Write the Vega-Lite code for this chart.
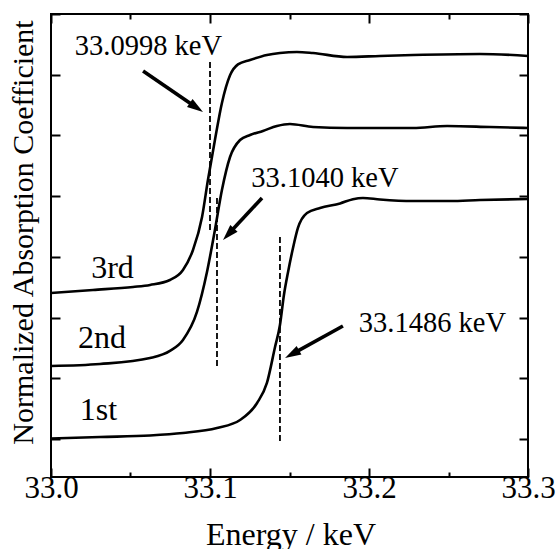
{
  "$schema": "https://vega.github.io/schema/vega-lite/v6.json",
  "width": 477,
  "height": 463,
  "autosize": {"type": "none"},
  "padding": {"left": 51, "top": 14, "right": 31, "bottom": 72},
  "background": "white",
  "config": {
    "view": {"stroke": "black", "strokeWidth": 2},
    "axis": {
      "domain": false,
      "grid": false,
      "tickColor": "black",
      "tickWidth": 2,
      "labelFont": "Liberation Serif, Times New Roman, serif",
      "labelFontSize": 31,
      "labelColor": "black",
      "titleFont": "Liberation Serif, Times New Roman, serif",
      "titleFontWeight": "normal",
      "titleColor": "black"
    }
  },
  "datasets": {
    "curves": [
      {"series": "1st", "x": 33.0, "y": 0.008},
      {"series": "1st", "x": 33.0308, "y": 0.033},
      {"series": "1st", "x": 33.0623, "y": 0.058},
      {"series": "1st", "x": 33.0830, "y": 0.099},
      {"series": "1st", "x": 33.1044, "y": 0.181},
      {"series": "1st", "x": 33.1189, "y": 0.313},
      {"series": "1st", "x": 33.1296, "y": 0.593},
      {"series": "1st", "x": 33.1358, "y": 0.923},
      {"series": "1st", "x": 33.1409, "y": 1.515},
      {"series": "1st", "x": 33.1440, "y": 1.878},
      {"series": "1st", "x": 33.1465, "y": 2.372},
      {"series": "1st", "x": 33.1491, "y": 2.751},
      {"series": "1st", "x": 33.1522, "y": 3.146},
      {"series": "1st", "x": 33.1553, "y": 3.476},
      {"series": "1st", "x": 33.1610, "y": 3.723},
      {"series": "1st", "x": 33.1692, "y": 3.805},
      {"series": "1st", "x": 33.1818, "y": 3.880},
      {"series": "1st", "x": 33.1899, "y": 3.950},
      {"series": "1st", "x": 33.1962, "y": 3.970},
      {"series": "1st", "x": 33.2069, "y": 3.945},
      {"series": "1st", "x": 33.2277, "y": 3.920},
      {"series": "1st", "x": 33.2509, "y": 3.920},
      {"series": "1st", "x": 33.2698, "y": 3.937},
      {"series": "1st", "x": 33.3, "y": 3.953},
      {"series": "2nd", "x": 33.0, "y": 1.202},
      {"series": "2nd", "x": 33.0308, "y": 1.235},
      {"series": "2nd", "x": 33.0623, "y": 1.334},
      {"series": "2nd", "x": 33.0748, "y": 1.450},
      {"series": "2nd", "x": 33.0830, "y": 1.631},
      {"series": "2nd", "x": 33.0918, "y": 2.092},
      {"series": "2nd", "x": 33.0981, "y": 2.751},
      {"series": "2nd", "x": 33.1031, "y": 3.443},
      {"series": "2nd", "x": 33.1075, "y": 4.101},
      {"series": "2nd", "x": 33.1126, "y": 4.645},
      {"series": "2nd", "x": 33.1189, "y": 4.925},
      {"series": "2nd", "x": 33.1252, "y": 5.008},
      {"series": "2nd", "x": 33.1333, "y": 5.074},
      {"series": "2nd", "x": 33.1421, "y": 5.156},
      {"series": "2nd", "x": 33.1503, "y": 5.189},
      {"series": "2nd", "x": 33.1648, "y": 5.139},
      {"series": "2nd", "x": 33.1862, "y": 5.123},
      {"series": "2nd", "x": 33.2277, "y": 5.123},
      {"series": "2nd", "x": 33.2491, "y": 5.156},
      {"series": "2nd", "x": 33.2761, "y": 5.139},
      {"series": "2nd", "x": 33.3, "y": 5.123},
      {"series": "3rd", "x": 33.0, "y": 2.405},
      {"series": "3rd", "x": 33.0264, "y": 2.454},
      {"series": "3rd", "x": 33.0516, "y": 2.504},
      {"series": "3rd", "x": 33.0623, "y": 2.537},
      {"series": "3rd", "x": 33.0748, "y": 2.619},
      {"series": "3rd", "x": 33.0830, "y": 2.784},
      {"series": "3rd", "x": 33.0893, "y": 3.113},
      {"series": "3rd", "x": 33.0950, "y": 3.657},
      {"series": "3rd", "x": 33.0987, "y": 4.266},
      {"series": "3rd", "x": 33.1031, "y": 4.925},
      {"series": "3rd", "x": 33.1075, "y": 5.534},
      {"series": "3rd", "x": 33.1126, "y": 5.990},
      {"series": "3rd", "x": 33.1176, "y": 6.170},
      {"series": "3rd", "x": 33.1252, "y": 6.243},
      {"series": "3rd", "x": 33.1358, "y": 6.325},
      {"series": "3rd", "x": 33.1440, "y": 6.358},
      {"series": "3rd", "x": 33.1547, "y": 6.375},
      {"series": "3rd", "x": 33.1648, "y": 6.358},
      {"series": "3rd", "x": 33.1862, "y": 6.292},
      {"series": "3rd", "x": 33.2069, "y": 6.309},
      {"series": "3rd", "x": 33.2277, "y": 6.325},
      {"series": "3rd", "x": 33.2698, "y": 6.342},
      {"series": "3rd", "x": 33.3, "y": 6.309}
    ],
    "dashes": [
      {"x": 33.1000, "y": 6.210, "y2": 3.443},
      {"x": 33.1044, "y": 3.970, "y2": 1.170},
      {"x": 33.1440, "y": 3.327, "y2": -0.049}
    ],
    "arrows": [
      {"x": 33.0579, "y": 6.062, "x2": 33.0914, "y2": 5.460},
      {"x": 33.1327, "y": 3.970, "x2": 33.1116, "y2": 3.375},
      {"x": 33.1836, "y": 1.861, "x2": 33.1516, "y2": 1.398}
    ],
    "heads": [
      {"x": 33.0956, "y": 5.386, "angle": 34.3},
      {"x": 33.1082, "y": 3.278, "angle": 132.9},
      {"x": 33.1472, "y": 1.334, "angle": 151.1}
    ],
    "labels": [
      {"x": 33.0613, "y": 6.325, "text": "33.0998 keV"},
      {"x": 33.1723, "y": 4.151, "text": "33.1040 keV"},
      {"x": 33.2399, "y": 1.762, "text": "33.1486 keV"}
    ],
    "serieslabels": [
      {"x": 33.0387, "y": 2.652, "text": "3rd"},
      {"x": 33.0321, "y": 1.499, "text": "2nd"},
      {"x": 33.0299, "y": 0.313, "text": "1st"}
    ]
  },
  "resolve": {"axis": {"x": "independent", "y": "independent"}},
  "layer": [
    {
      "data": {"name": "curves"},
      "mark": {"type": "line", "color": "black", "strokeWidth": 2.6, "interpolate": "monotone"},
      "encoding": {
        "x": {
          "field": "x", "type": "quantitative",
          "scale": {"domain": [33.0, 33.3], "nice": false, "zero": false},
          "axis": {
            "orient": "bottom",
            "title": "Energy / keV",
            "titleFontSize": 32,
            "titleBaseline": "alphabetic",
            "titleX": 239.5,
            "titleY": 67,
            "values": [33.0, 33.05, 33.1, 33.15, 33.2, 33.25, 33.3],
            "labelExpr": "abs(datum.value*10 - round(datum.value*10)) < 0.01 ? format(datum.value, '.1f') : ''",
            "tickSize": {"condition": {"test": "abs(datum.value*10 - round(datum.value*10)) < 0.01", "value": -9}, "value": -5},
            "labelBaseline": "alphabetic",
            "labelPadding": 29,
            "labelFlush": false,
            "labelOverlap": false
          }
        },
        "y": {
          "field": "y", "type": "quantitative",
          "scale": {"domain": [-0.626, 7], "nice": false, "zero": false},
          "axis": {
            "orient": "left",
            "title": "Normalized Absorption Coefficient",
            "titleFontSize": 30,
            "titleAngle": -90,
            "titleAlign": "center",
            "titleBaseline": "alphabetic",
            "titleX": -19,
            "titleY": 218,
            "values": [0, 1, 2, 3, 4, 5, 6, 7],
            "labels": false,
            "tickSize": -9
          }
        },
        "detail": {"field": "series"}
      }
    },
    {
      "data": {"name": "dashes"},
      "mark": {"type": "rule", "color": "black", "strokeWidth": 1.8, "strokeDash": [6, 3]},
      "encoding": {
        "x": {
          "field": "x", "type": "quantitative",
          "axis": {
            "orient": "top",
            "title": null,
            "labels": false,
            "values": [33.0, 33.05, 33.1, 33.15, 33.2, 33.25, 33.3],
            "tickSize": {"condition": {"test": "abs(datum.value*10 - round(datum.value*10)) < 0.01", "value": -9}, "value": -5}
          }
        },
        "y": {
          "field": "y", "type": "quantitative",
          "axis": {
            "orient": "right",
            "title": null,
            "labels": false,
            "values": [0, 1, 2, 3, 4, 5, 6, 7],
            "tickSize": -9
          }
        },
        "y2": {"field": "y2"}
      }
    },
    {
      "data": {"name": "arrows"},
      "mark": {"type": "rule", "color": "black", "strokeWidth": 3.6},
      "encoding": {
        "x": {"field": "x", "type": "quantitative", "axis": null},
        "y": {"field": "y", "type": "quantitative", "axis": null},
        "x2": {"field": "x2"},
        "y2": {"field": "y2"}
      }
    },
    {
      "data": {"name": "heads"},
      "mark": {"type": "point", "shape": "M0,0 L-2,-0.62 L-2,0.62 Z", "filled": true, "color": "black", "opacity": 1, "size": 256, "strokeWidth": 0},
      "encoding": {
        "x": {"field": "x", "type": "quantitative", "axis": null},
        "y": {"field": "y", "type": "quantitative", "axis": null},
        "angle": {"field": "angle", "type": "quantitative", "scale": null}
      }
    },
    {
      "data": {"name": "labels"},
      "mark": {"type": "text", "font": "Liberation Serif, Times New Roman, serif", "fontSize": 28.5, "color": "black", "align": "center", "baseline": "alphabetic"},
      "encoding": {
        "x": {"field": "x", "type": "quantitative", "axis": null},
        "y": {"field": "y", "type": "quantitative", "axis": null},
        "text": {"field": "text"}
      }
    },
    {
      "data": {"name": "serieslabels"},
      "mark": {"type": "text", "font": "Liberation Serif, Times New Roman, serif", "fontSize": 32, "color": "black", "align": "center", "baseline": "alphabetic"},
      "encoding": {
        "x": {"field": "x", "type": "quantitative", "axis": null},
        "y": {"field": "y", "type": "quantitative", "axis": null},
        "text": {"field": "text"}
      }
    }
  ]
}
